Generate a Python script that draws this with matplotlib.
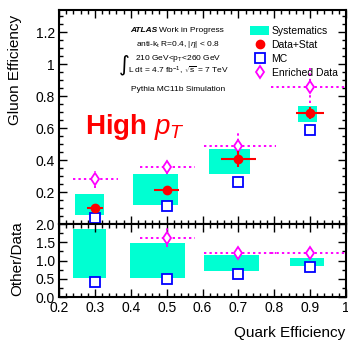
import matplotlib
matplotlib.use("Agg")
import matplotlib.pyplot as plt
from matplotlib.patches import Patch
from matplotlib.lines import Line2D
from matplotlib.ticker import MultipleLocator, FuncFormatter

plt.rcParams["font.family"] = ["Liberation Sans", "DejaVu Sans"]
plt.rcParams["mathtext.fontset"] = "custom"
plt.rcParams["mathtext.rm"] = "Liberation Sans"
plt.rcParams["mathtext.it"] = "Liberation Sans:italic"

CYAN = "#00ffd2"
RED = "#ff0000"
BLUE = "#0000ff"
MAGENTA = "#ff00ff"

# --- data --------------------------------------------------------------------
quark_eff = [0.3, 0.5, 0.7, 0.9]

data_y = [0.098, 0.21, 0.41, 0.695]
data_yerr = [0.015, 0.03, 0.05, 0.035]
data_xerr = [0.022, 0.035, 0.048, 0.038]

mc_y = [0.04, 0.11, 0.265, 0.59]

enr_y = [0.28, 0.36, 0.49, 0.858]
enr_yerr_lo = [0.055, 0.05, 0.04, 0.10]
enr_yerr_hi = [0.05, 0.05, 0.085, 0.12]
enr_xerr_lo = [0.06, 0.075, 0.095, 0.11]
enr_xerr_hi = [0.065, 0.08, 0.105, 0.10]

sys_x_lo = [0.244, 0.406, 0.617, 0.867]
sys_x_hi = [0.325, 0.533, 0.733, 0.918]
sys_y_lo = [0.054, 0.12, 0.31, 0.64]
sys_y_hi = [0.19, 0.31, 0.47, 0.737]

ratio_sys_x_lo = [0.24, 0.397, 0.603, 0.845]
ratio_sys_x_hi = [0.332, 0.55, 0.757, 0.94]
ratio_sys_y_lo = [0.52, 0.53, 0.72, 0.86]
ratio_sys_y_hi = [1.86, 1.48, 1.16, 1.07]
ratio_mc = [0.41, 0.50, 0.63, 0.84]
ratio_enr = [2.8, 1.63, 1.2, 1.22]
ratio_enr_err = [0.3, 0.25, 0.1, 0.1]

# --- figure ------------------------------------------------------------------
W, H = 348, 340
fig = plt.figure(figsize=(W / 100, H / 100), dpi=100)
left, right = 59, 346
ax1 = fig.add_axes([left / W, 1 - 224 / H, (right - left) / W, 214 / H])
ax2 = fig.add_axes([left / W, 1 - 297.3 / H, (right - left) / W, 73.3 / H])


def style(ax):
    for s in ax.spines.values():
        s.set_linewidth(1.5)
    ax.tick_params(which="both", direction="in", top=True, right=True,
                   labelsize=10, width=1.0, pad=3)
    ax.tick_params(which="major", length=5.5)
    ax.tick_params(which="minor", length=3)
    ax.xaxis.set_major_locator(MultipleLocator(0.1))
    ax.xaxis.set_minor_locator(MultipleLocator(0.02))
    ax.set_xlim(0.2, 1.0)


def draw_boxes(ax, xlo, xhi, ylo, yhi):
    widths = [b - a for a, b in zip(xlo, xhi)]
    heights = [b - a for a, b in zip(ylo, yhi)]
    ax.bar(xlo, heights, width=widths, bottom=ylo, align="edge",
           color=CYAN, edgecolor="none", zorder=1)


def draw_enriched(ax, y, yerr, xerr):
    eb = ax.errorbar(quark_eff, y, yerr=yerr, xerr=xerr, fmt="d", ms=6,
                     mfc="white", mec=MAGENTA, mew=1.3, ecolor=MAGENTA,
                     elinewidth=1.4, capsize=0, zorder=2)
    for lc in eb[2]:
        lc.set_linestyle((0, (1.2, 1.6)))


# top panel
style(ax1)
ax1.set_ylim(0, 1.34)
ax1.yaxis.set_major_locator(MultipleLocator(0.2))
ax1.yaxis.set_minor_locator(MultipleLocator(0.05))
ax1.yaxis.set_major_formatter(FuncFormatter(lambda v, p: "" if abs(v) < 1e-9 else f"{v:g}"))
ax1.tick_params(labelbottom=False)

draw_boxes(ax1, sys_x_lo, sys_x_hi, sys_y_lo, sys_y_hi)
draw_enriched(ax1, enr_y, [enr_yerr_lo, enr_yerr_hi], [enr_xerr_lo, enr_xerr_hi])
ax1.plot(quark_eff, mc_y, "s", ms=6.5, mfc="white", mec=BLUE, mew=1.3, zorder=3)
ax1.errorbar(quark_eff, data_y, yerr=data_yerr, xerr=data_xerr, fmt="o", ms=6,
             color=RED, ecolor=RED, elinewidth=1.5, capsize=0, zorder=4)

# legend
handles = [
    Patch(facecolor=CYAN, edgecolor="none"),
    Line2D([], [], ls="none", marker="o", ms=6, color=RED),
    Line2D([], [], ls="none", marker="s", ms=6.5, mfc="white", mec=BLUE, mew=1.3),
    Line2D([], [], ls="none", marker="d", ms=6, mfc="white", mec=MAGENTA, mew=1.3),
]
labels = ["Systematics", "Data+Stat", "MC", "Enriched Data"]
fig.legend(handles, labels, loc="upper left", bbox_to_anchor=(245 / W, 1 - 21 / H),
           frameon=False, fontsize=7.5, borderpad=0, labelspacing=0.38,
           handlelength=1.8, handleheight=0.9, handletextpad=0.25)

# info block
cx = 178 / W
fig.text(157 / W, 1 - 31 / H, "ATLAS", fontsize=6, fontweight="bold",
         style="italic", ha="right", va="center")
fig.text(159 / W, 1 - 31 / H, "Work in Progress", fontsize=6, ha="left", va="center")
fig.text(cx, 1 - 45 / H, r"anti-k$_{\mathrm{t}}$ R=0.4, |$\eta$| < 0.8",
         fontsize=6, ha="center", va="center")
fig.text(cx, 1 - 58 / H, r"210 GeV<p$_{\mathrm{T}}$<260 GeV",
         fontsize=6, ha="center", va="center")
fig.text(124 / W, 1 - 65 / H, "\u222b", fontsize=15, ha="center", va="center",
         family=["DejaVu Sans"])
fig.text(cx, 1 - 71 / H, r"L dt = 4.7 fb$^{-1}$, $\sqrt{\mathrm{s}}$ = 7 TeV",
         fontsize=6, ha="center", va="center")
fig.text(cx, 1 - 90 / H, "Pythia MC11b Simulation", fontsize=6,
         ha="center", va="center")

fig.text(85 / W, 1 - 127 / H, r"High $p_T$", fontsize=20, fontweight="bold",
         color=RED, ha="left", va="center")

# ratio panel
style(ax2)
ax2.set_ylim(0, 2.0)
ax2.yaxis.set_major_locator(MultipleLocator(0.5))
ax2.yaxis.set_minor_locator(MultipleLocator(0.25))
ax2.yaxis.set_major_formatter(FuncFormatter(lambda v, p: f"{v:.1f}"))
ax2.xaxis.set_major_formatter(FuncFormatter(lambda v, p: f"{v:g}"))

draw_boxes(ax2, ratio_sys_x_lo, ratio_sys_x_hi, ratio_sys_y_lo, ratio_sys_y_hi)
draw_enriched(ax2, ratio_enr, ratio_enr_err, [enr_xerr_lo, enr_xerr_hi])
ax2.plot(quark_eff, ratio_mc, "s", ms=6.5, mfc="white", mec=BLUE, mew=1.3, zorder=3)

# axis titles
fig.text(15.5 / W, 1 - 70 / H, "Gluon Efficiency", fontsize=11, rotation=90,
         ha="center", va="center")
fig.text(17.5 / W, 1 - 259 / H, "Other/Data", fontsize=11, rotation=90,
         ha="center", va="center")
fig.text(345 / W, 1 - 333 / H, "Quark Efficiency", fontsize=11,
         ha="right", va="center")

fig.savefig("out.png", dpi=100)
